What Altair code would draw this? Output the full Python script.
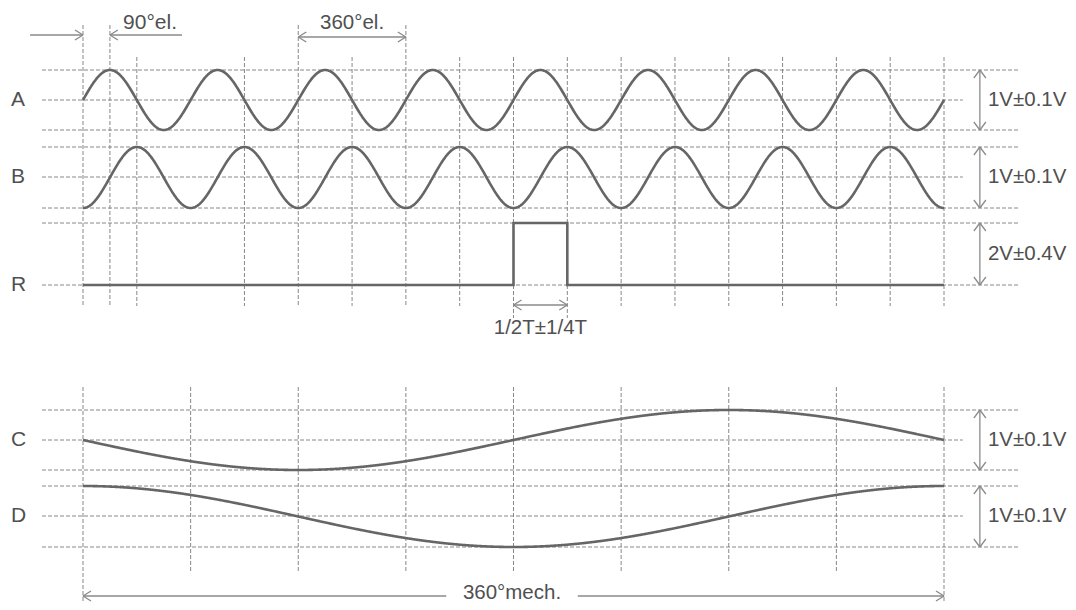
import altair as alt
import numpy as np
import pandas as pd

# ---- x unit: electrical degrees (8 el. cycles = 360 deg mech.) ----
CYCLES = 8
EL_END = 360 * CYCLES                 # 2880 el. deg
PX_PER_DEG = 861 / EL_END             # layout scale
X_DOMAIN = [-75 / PX_PER_DEG, 985 / PX_PER_DEG]
Y_DOMAIN = [8, 602]                   # vertical layout units (top -> bottom)

# ---- signal tracks ----
labels = ["A", "B", "R", "C", "D"]
label_y = [100, 177, 285, 440, 516]
level_text = ["1V±0.1V", "1V±0.1V", "2V±0.4V", "1V±0.1V", "1V±0.1V"]
level_top = [70, 147, 223, 410, 486]
level_bot = [130, 208, 285, 470, 547]
level_text_y = [100, 177, 254, 440, 516]

# reference pulse R (el. degrees / level)
r_x = [0, 1440, 1440, 1620, 1620, 2880]
r_y = [285, 285, 223, 223, 285, 285]

# grid
grid_full_y = [70, 130, 147, 208, 223, 285, 410, 470, 486, 547]
grid_center_y = [100, 177, 440, 516]
grid_x_start = -137
grid_full_end = 3128
grid_center_end = 2943
top_vlines = [0, 90, 180] + list(range(540, 2881, 180))
top_vline_tall = [0, 90, 720, 1080]
top_vline_long = [1440, 1620]
bot_vlines = list(range(0, 2881, 360))

# ---- waveforms ----
deg = np.linspace(0, EL_END, 1441)
rad = np.deg2rad(deg)
mrad = np.deg2rad(deg / CYCLES)
rows = []
for i, d in enumerate(deg):
    rows.append({"s": "A", "i": i, "x": d, "y": 100 - 30 * np.sin(rad[i])})
    rows.append({"s": "B", "i": i, "x": d, "y": 177.5 + 30.5 * np.cos(rad[i])})
    rows.append({"s": "C", "i": i, "x": d, "y": 440 + 30 * np.sin(mrad[i])})
    rows.append({"s": "D", "i": i, "x": d, "y": 516.5 - 30.5 * np.cos(mrad[i])})
for i, (x, y) in enumerate(zip(r_x, r_y)):
    rows.append({"s": "R", "i": i, "x": x, "y": y})
waves = pd.DataFrame(rows)

# ---- grid segments ----
grid = []
for y in grid_full_y:
    grid.append(dict(x=grid_x_start, x2=grid_full_end, y=y, y2=y))
for y in grid_center_y:
    grid.append(dict(x=grid_x_start, x2=grid_center_end, y=y, y2=y))
for x in top_vlines:
    top = 25 if x in top_vline_tall else 57
    bot = 318 if x in top_vline_long else 306
    grid.append(dict(x=x, x2=x, y=top, y2=bot))
for x in bot_vlines:
    bot = 602 if x in (0, EL_END) else 572
    grid.append(dict(x=x, x2=x, y=387, y2=bot))
grid = pd.DataFrame(grid)

# ---- annotation arrows ----
HL = 8 / PX_PER_DEG   # head length (horizontal)
HW = 5                # head half-width (vertical units)
VHL = 8               # vertical head length
VHW = 6 / PX_PER_DEG  # vertical head half-width

arr = []
def seg(x, y, x2, y2):
    arr.append(dict(x=x, y=y, x2=x2, y2=y2))

def head_right(x, y):
    seg(x - HL, y - HW, x, y); seg(x - HL, y + HW, x, y)

def head_left(x, y):
    seg(x + HL, y - HW, x, y); seg(x + HL, y + HW, x, y)

def vdouble(x, y1, y2):
    seg(x, y1, x, y2)
    seg(x - VHW, y1 + VHL, x, y1); seg(x + VHW, y1 + VHL, x, y1)
    seg(x - VHW, y2 - VHL, x, y2); seg(x + VHW, y2 - VHL, x, y2)

# 90 deg el.
seg(-177, 35, 0, 35); head_right(0, 35)
seg(90, 35, 331, 35); head_left(90, 35)
# 360 deg el.
seg(720, 37, 1080, 37); head_left(720, 37); head_right(1080, 37)
# 1/2T +- 1/4T
seg(1440, 305, 1620, 305); head_left(1440, 305); head_right(1620, 305)
# 360 deg mech.
seg(0, 596, 1215, 596); seg(1655, 596, EL_END, 596)
head_left(0, 596); head_right(EL_END, 596)
# level arrows
for t, b in zip(level_top, level_bot):
    vdouble(3000, t, b)
arrows = pd.DataFrame(arr)

# ---- texts ----
texts_labels = pd.DataFrame([dict(x=-241, y=y, t=l) for l, y in zip(labels, label_y)])
texts_levels = pd.DataFrame([dict(x=3027, y=y, t=t) for t, y in zip(level_text, level_text_y)])
texts_left = pd.DataFrame([dict(x=134, y=23, t="90°el.")])
texts_center = pd.DataFrame([
    dict(x=900, y=23, t="360°el."),
    dict(x=1530, y=328, t="1/2T±1/4T"),
    dict(x=1435, y=593, t="360°mech."),
])

xs = alt.Scale(domain=X_DOMAIN, nice=False, zero=False)
ys = alt.Scale(domain=Y_DOMAIN, nice=False, zero=False, reverse=True)

def X(f):
    return alt.X(f, type="quantitative", scale=xs, axis=None)

def Y(f):
    return alt.Y(f, type="quantitative", scale=ys, axis=None)

TXT = dict(baseline="middle", font="Liberation Sans", color="#505050")

grid_layer = alt.Chart(grid).mark_rule(
    color="#888888", strokeWidth=1, strokeDash=[4, 2]
).encode(x=X("x"), x2="x2", y=Y("y"), y2="y2")

arrow_layer = alt.Chart(arrows).mark_rule(
    color="#8a8a8a", strokeWidth=1.3
).encode(x=X("x"), x2="x2", y=Y("y"), y2="y2")

wave_layer = alt.Chart(waves).mark_line(
    color="#666666", strokeWidth=2.6, strokeJoin="miter", interpolate="linear"
).encode(x=X("x"), y=Y("y"), detail="s:N", order="i:Q")

text_lab = alt.Chart(texts_labels).mark_text(align="left", fontSize=21, **TXT).encode(
    x=X("x"), y=Y("y"), text="t:N")
text_lev = alt.Chart(texts_levels).mark_text(align="left", fontSize=20.5, **TXT).encode(
    x=X("x"), y=Y("y"), text="t:N")
text_l = alt.Chart(texts_left).mark_text(align="left", fontSize=21, **TXT).encode(
    x=X("x"), y=Y("y"), text="t:N")
text_c = alt.Chart(texts_center).mark_text(align="center", fontSize=20.5, **TXT).encode(
    x=X("x"), y=Y("y"), text="t:N")

chart = alt.layer(grid_layer, arrow_layer, wave_layer, text_lab, text_lev, text_l, text_c).properties(
    width=1060, height=594, padding=0,
    autosize=alt.AutoSizeParams(type="none"),
    background="white",
).configure_view(stroke=None)

chart.save("out.html", embed_options={"renderer": "svg", "actions": False})
